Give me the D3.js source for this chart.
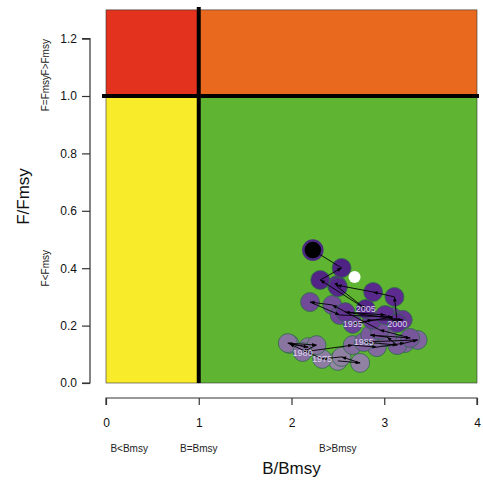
<!DOCTYPE html>
<html><head><meta charset="utf-8">
<script src="https://cdn.jsdelivr.net/npm/d3@7/dist/d3.min.js"></script>
<style>body{margin:0;background:#fff}svg{display:block;font-family:"Liberation Sans",Arial,sans-serif}</style>
</head><body>
<svg id="c" width="483" height="481"></svg>
<script>
// ---- data ----
const years = [1972,1973,1974,1975,1976,1977,1978,1979,1980,1981,1982,1983,1984,1985,1986,1987,1988,1989,1990,1991,1992,1993,1994,1995,1996,1997,1998,1999,2000,2001,2002,2003,2004,2005,2006,2007,2008];
const bRatio = [2.50,2.74,2.54,2.33,1.98,2.18,1.96,2.27,2.12,2.66,2.92,3.22,3.36,2.78,3.14,3.03,2.85,3.28,2.95,2.44,2.20,2.52,3.09,2.66,2.87,3.20,2.58,3.01,3.14,3.11,2.88,2.49,2.50,2.80,2.31,2.54,2.23];
const fRatio = [0.077,0.070,0.091,0.084,0.136,0.125,0.139,0.132,0.108,0.132,0.125,0.139,0.150,0.143,0.132,0.160,0.167,0.157,0.185,0.272,0.282,0.237,0.230,0.206,0.220,0.220,0.247,0.237,0.209,0.300,0.317,0.341,0.334,0.258,0.359,0.401,0.463];
const labelYears = [1975,1980,1985,1995,2000,2005];
const currentPoint = {b: 2.68, f: 0.369};
const xTicks = [0,1,2,3,4];
const yTicks = [0.0,0.2,0.4,0.6,0.8,1.0,1.2];
const xSubLabels = [{v:0.25,t:"B<Bmsy"},{v:1,t:"B=Bmsy"},{v:2.5,t:"B>Bmsy"}];
const ySubLabels = [{v:0.4,t:"F<Fmsy"},{v:1.01,t:"F=Fmsy"},{v:1.135,t:"F>Fmsy"}];
const zones = [
  {x0:0,x1:1,y0:1,y1:1.3,c:"#e3331f"},
  {x0:1,x1:4,y0:1,y1:1.3,c:"#e96a1e"},
  {x0:0,x1:1,y0:0,y1:1,c:"#f8eb2a"},
  {x0:1,x1:4,y0:0,y1:1,c:"#5fb532"}
];

const svg = d3.select("#c");
const x = d3.scaleLinear().domain([0,4]).range([106,477]);
const y = d3.scaleLinear().domain([0,1.3]).range([383,9.9]);

// zones
svg.selectAll("rect.z").data(zones).join("rect")
  .attr("x",d=>x(d.x0)).attr("y",d=>y(d.y1))
  .attr("width",d=>x(d.x1)-x(d.x0)).attr("height",d=>y(d.y0)-y(d.y1))
  .attr("fill",d=>d.c).attr("stroke","#333").attr("stroke-width",0.6);

// thick reference lines
svg.append("line").attr("x1",x(1)).attr("x2",x(1)).attr("y1",y(1.3)-3).attr("y2",y(0))
  .attr("stroke","#000").attr("stroke-width",4);
svg.append("line").attr("x1",x(0)-4).attr("x2",x(4)+2).attr("y1",y(1)).attr("y2",y(1))
  .attr("stroke","#000").attr("stroke-width",4);

// axes (R style, offset)
const xAxis = d3.axisBottom(x).tickValues(xTicks).tickFormat(d3.format("d")).tickSize(7).tickPadding(13);
const gx = svg.append("g").attr("transform","translate(0,398)").call(xAxis);
const yAxis = d3.axisLeft(y).tickValues(yTicks).tickFormat(d3.format(".1f")).tickSize(8).tickPadding(5);
const gy = svg.append("g").attr("transform","translate(90,0)").call(yAxis);
[gx,gy].forEach(g=>{
  g.select(".domain").attr("stroke","#333").attr("stroke-width",1.2);
  g.selectAll(".tick line").attr("stroke","#333").attr("stroke-width",1.2);
  g.selectAll(".tick text").attr("fill","#111").style("font-size","12px").style("font-family","Liberation Sans, Arial, sans-serif");
});
gx.select(".domain").attr("d",`M${x(0)},7V0H${x(4)}V7`);
gy.select(".domain").attr("d",`M-8,${y(0)}H0V${y(1.2)}H-8`);

// sub labels
svg.selectAll("text.xs").data(xSubLabels).join("text")
  .attr("x",d=>x(d.v)).attr("y",452).attr("text-anchor","middle")
  .style("font-size","10px").attr("fill","#222").text(d=>d.t);
svg.selectAll("text.ys").data(ySubLabels).join("text")
  .attr("transform",d=>`translate(49,${y(d.v)}) rotate(-90)`).attr("text-anchor","middle")
  .style("font-size","10px").attr("fill","#222").text(d=>d.t);

// titles
svg.append("text").attr("x",(x(0)+x(4))/2).attr("y",474).attr("text-anchor","middle")
  .style("font-size","17px").attr("fill","#111").text("B/Bmsy");
svg.append("text").attr("transform",`translate(29,${(y(0)+y(1.3))/2}) rotate(-90)`).attr("text-anchor","middle")
  .style("font-size","17px").attr("fill","#111").text("F/Fmsy");

// trajectory
const pts = years.map((yr,i)=>({yr,b:bRatio[i],f:fRatio[i]}));
const col = d3.scaleLinear().domain([years[0],1988,2000,years[years.length-2],years[years.length-1]])
  .range(["#9385a3","#7a5a9c","#5f2c91","#4f2384","#000000"]);
svg.append("defs").append("marker").attr("id","ar").attr("viewBox","0 0 10 10")
  .attr("refX",10).attr("refY",5).attr("markerWidth",7).attr("markerHeight",5).attr("orient","auto")
  .append("path").attr("d","M0,1L10,5L0,9Z").attr("fill","#000");
svg.selectAll("circle.p").data(pts).join("circle")
  .attr("cx",d=>x(d.b)).attr("cy",d=>y(d.f)).attr("r",9.5)
  .attr("fill",d=>col(d.yr)).attr("stroke",d=>d.yr===years[years.length-1]?"#4a2a80":"#2f6a4a").attr("stroke-width",d=>d.yr===years[years.length-1]?2.5:0.8);
svg.selectAll("line.s").data(pts.slice(1)).join("line")
  .attr("x1",(d,i)=>x(pts[i].b)).attr("y1",(d,i)=>y(pts[i].f))
  .attr("x2",d=>x(d.b)).attr("y2",d=>y(d.f))
  .attr("stroke","#000").attr("stroke-width",0.9).attr("marker-end","url(#ar)");
svg.selectAll("text.yr").data(pts.filter(d=>labelYears.includes(d.yr))).join("text")
  .attr("x",d=>x(d.b)).attr("y",d=>y(d.f)+3.5).attr("text-anchor","middle")
  .style("font-size","9px").attr("fill","#ddd5ee").text(d=>d.yr);
svg.append("circle").attr("cx",x(currentPoint.b)).attr("cy",y(currentPoint.f)).attr("r",6).attr("fill","#fff");
</script>
</body></html>
